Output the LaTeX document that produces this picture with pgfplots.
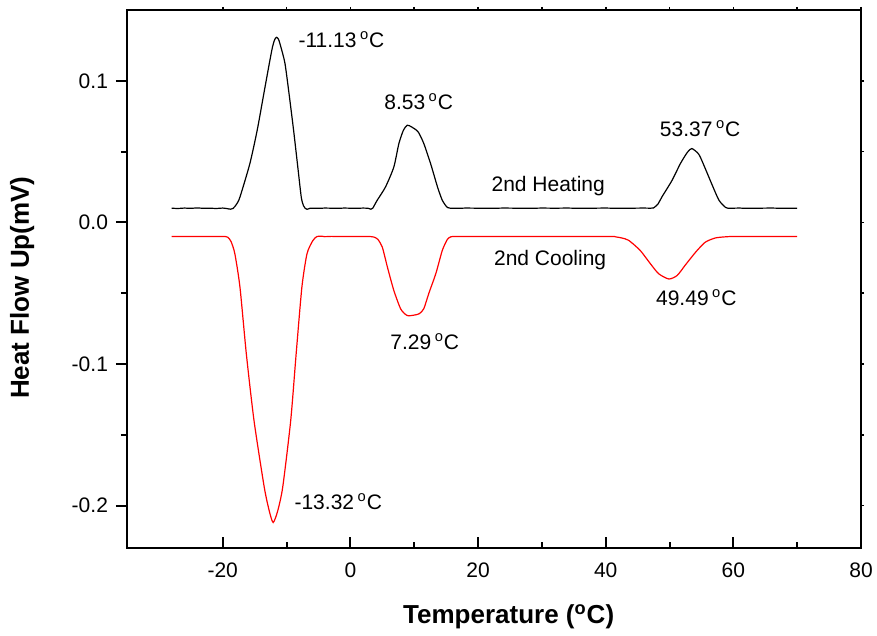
\documentclass[border=0pt]{standalone}
\usepackage{pgfplots}
\pgfplotsset{compat=1.18}
\usepackage{fontspec}
\setmainfont{Liberation Sans}
\usetikzlibrary{calc}
\newcommand{\dc}{\,\textsuperscript{o}C}
\begin{document}
\begin{tikzpicture}
\begin{axis}[
  scale only axis,
  width=367pt, height=269pt,
  xmin=-35, xmax=80, ymin=-0.23, ymax=0.15,
  xtick={-20,0,20,40,60,80},
  ytick={-0.2,-0.1,0,0.1},
  minor x tick num=1, minor y tick num=1,
  xtick pos=bottom, ytick pos=left,
  tick align=inside,
  major tick length=5.5pt, minor tick length=3pt,
  major y tick style={xshift=-5.5pt},
  minor y tick style={xshift=-3pt},
  axis line style={line width=1pt},
  every tick/.style={black, line width=1pt},
  /pgf/number format/assume math mode=true,
  yticklabel={\pgfmathprintnumber[fixed,fixed zerofill,precision=1]{\tick}},
  yticklabel style={font=\fontsize{10.5}{12}\selectfont, xshift=-6pt},
  xticklabel style={font=\fontsize{10.5}{12}\selectfont, yshift=-4pt},
  xlabel={Temperature (\textsuperscript{o}C)},
  ylabel={Heat Flow Up(mV)},
  xlabel style={font=\fontsize{13}{15}\selectfont\bfseries, at={(axis description cs:0.52,-0.128)}, anchor=center},
  ylabel style={font=\fontsize{13}{15}\selectfont\bfseries, at={(axis description cs:-0.143,0.484)}, anchor=center},
  clip=false,
]
\addplot[black, line width=0.6pt, smooth, tension=0.4] coordinates {
(-28,0.0100) (-27,0.0098) (-26,0.0101) (-25,0.0099) (-24,0.0102) (-23,0.0099) (-22,0.0100) (-21,0.0098) (-20,0.0101)
(-19.3,0.0097) (-18.8,0.0093) (-18.4,0.0098) (-17.85,0.0127) (-17.3,0.0179) (-15.75,0.0415) (-14.6,0.0651)
(-13.65,0.0887) (-12.7,0.1123) (-12.2,0.1240) (-11.85,0.1292) (-11.55,0.1307) (-11.25,0.1292) (-10.9,0.1240)
(-10.25,0.1123) (-9.55,0.0887) (-8.9,0.0651) (-8.3,0.0415) (-7.7,0.0179) (-7.35,0.0118) (-7.1,0.0100) (-6.8,0.0092)
(-6.3,0.0100)
(-6,0.0100) (-5,0.0099) (-4,0.0101) (-3,0.0100) (-2,0.0099) (-1,0.0101) (0,0.0100) (1,0.0099) (2,0.0101) (2.8,0.0099)
(3.2,0.0093) (3.5,0.0100) (4.2,0.0156) (5.5,0.0250) (6.8,0.0390) (7.6,0.0557) (8.3,0.0650) (8.9,0.0686) (9.55,0.0675)
(10.6,0.0640) (11.5,0.0557) (12.6,0.0410) (13.65,0.0250) (14.4,0.0156) (15.2,0.0105) (16,0.0100) (17,0.0099) (18,0.0101)
(20,0.0100) (22,0.0099) (24,0.0101) (26,0.0100) (28,0.0099) (30,0.0101) (32,0.0100) (34,0.0101) (36,0.0099) (38,0.0100)
(40,0.0101) (42,0.0099) (44,0.0100) (46,0.0101) (47.0,0.0100) (47.5,0.0102) (48.2,0.0130) (48.8,0.0179) (50.4,0.0297)
(51.7,0.0415) (52.8,0.0495) (53.5,0.0521) (54.6,0.0480) (55.6,0.0380) (56.7,0.0262) (57.75,0.0156) (58.8,0.0105)
(59.5,0.0100) (61,0.0101) (62,0.0099) (64,0.0100) (66,0.0101) (68,0.0099) (70,0.0100)
};
\addplot[red, line width=0.6pt, smooth, tension=0.4] coordinates {
(-28,-0.0100) (-26,-0.0100) (-24,-0.0100) (-22,-0.0100) (-20,-0.0100) (-19.6,-0.0100) (-19.2,-0.0105) (-18.7,-0.0135)
(-18.1,-0.0222) (-17.3,-0.0458) (-16.3,-0.0930) (-15.1,-0.1400) (-13.5,-0.1870) (-12.7,-0.2040) (-12.1,-0.2120)
(-11.4,-0.2040) (-10.6,-0.1870) (-9.35,-0.1400) (-8.5,-0.0930) (-7.6,-0.0458) (-6.8,-0.0222) (-5.9,-0.0130)
(-5.25,-0.0100) (-4.5,-0.0098) (-4,-0.0101) (-3,-0.0099) (-2,-0.0100) (0,-0.0100) (2,-0.0100) (3.0,-0.0100)
(3.7,-0.0104) (4.3,-0.0120) (5.0,-0.0175) (5.8,-0.0316) (6.8,-0.0480) (7.9,-0.0613) (8.9,-0.0658) (10.0,-0.0655)
(10.8,-0.0645) (11.5,-0.0610) (12.3,-0.0500) (13.4,-0.0360) (14.4,-0.0198) (15.2,-0.0120) (15.75,-0.0102) (16.5,-0.0100)
(20,-0.0100) (25,-0.0100) (30,-0.0100) (35,-0.0100) (41,-0.0100) (41.5,-0.0102) (42.5,-0.0110) (43.6,-0.0127)
(45.4,-0.0198) (47.0,-0.0292) (48.3,-0.0363) (49.9,-0.0400) (51.2,-0.0375) (52.5,-0.0300) (54.1,-0.0210) (55.6,-0.0140)
(57.2,-0.0110) (58.8,-0.0102) (60,-0.0100) (65,-0.0100) (70,-0.0100)
};
\begin{scope}[every node/.style={font=\fontsize{10.5}{12}\selectfont, anchor=center}]
\node at (axis cs:-1.4,0.129) {-11.13\dc};
\node at (axis cs:10.7,0.085) {8.53\dc};
\node at (axis cs:54.8,0.0665) {53.37\dc};
\node at (axis cs:31.0,0.0255) {2nd Heating};
\node at (axis cs:31.3,-0.0269) {2nd Cooling};
\node at (axis cs:54.2,-0.053) {49.49\dc};
\node at (axis cs:11.65,-0.084) {7.29\dc};
\node at (axis cs:-1.9,-0.197) {-13.32\dc};
\end{scope}
\end{axis}
\begin{axis}[
  scale only axis,
  width=367pt, height=269pt,
  xmin=-35, xmax=80, ymin=-0.23, ymax=0.15,
  xtick={-20,0,20,40,60,80},
  ytick={-0.2,-0.1,0,0.1},
  minor x tick num=1, minor y tick num=1,
  xtick pos=top, ytick pos=right,
  tick align=outside,
  major tick length=1.5pt, minor tick length=1.5pt,
  xticklabels={}, yticklabels={},
  axis line style={line width=1pt},
  every tick/.style={black, line width=0.8pt},
]
\end{axis}
\pgfresetboundingbox
\path[use as bounding box] ($(current axis.south west)+(-63.5pt,-44pt)$) rectangle ($(current axis.north east)+(8pt,5pt)$);
\end{tikzpicture}
\end{document}
